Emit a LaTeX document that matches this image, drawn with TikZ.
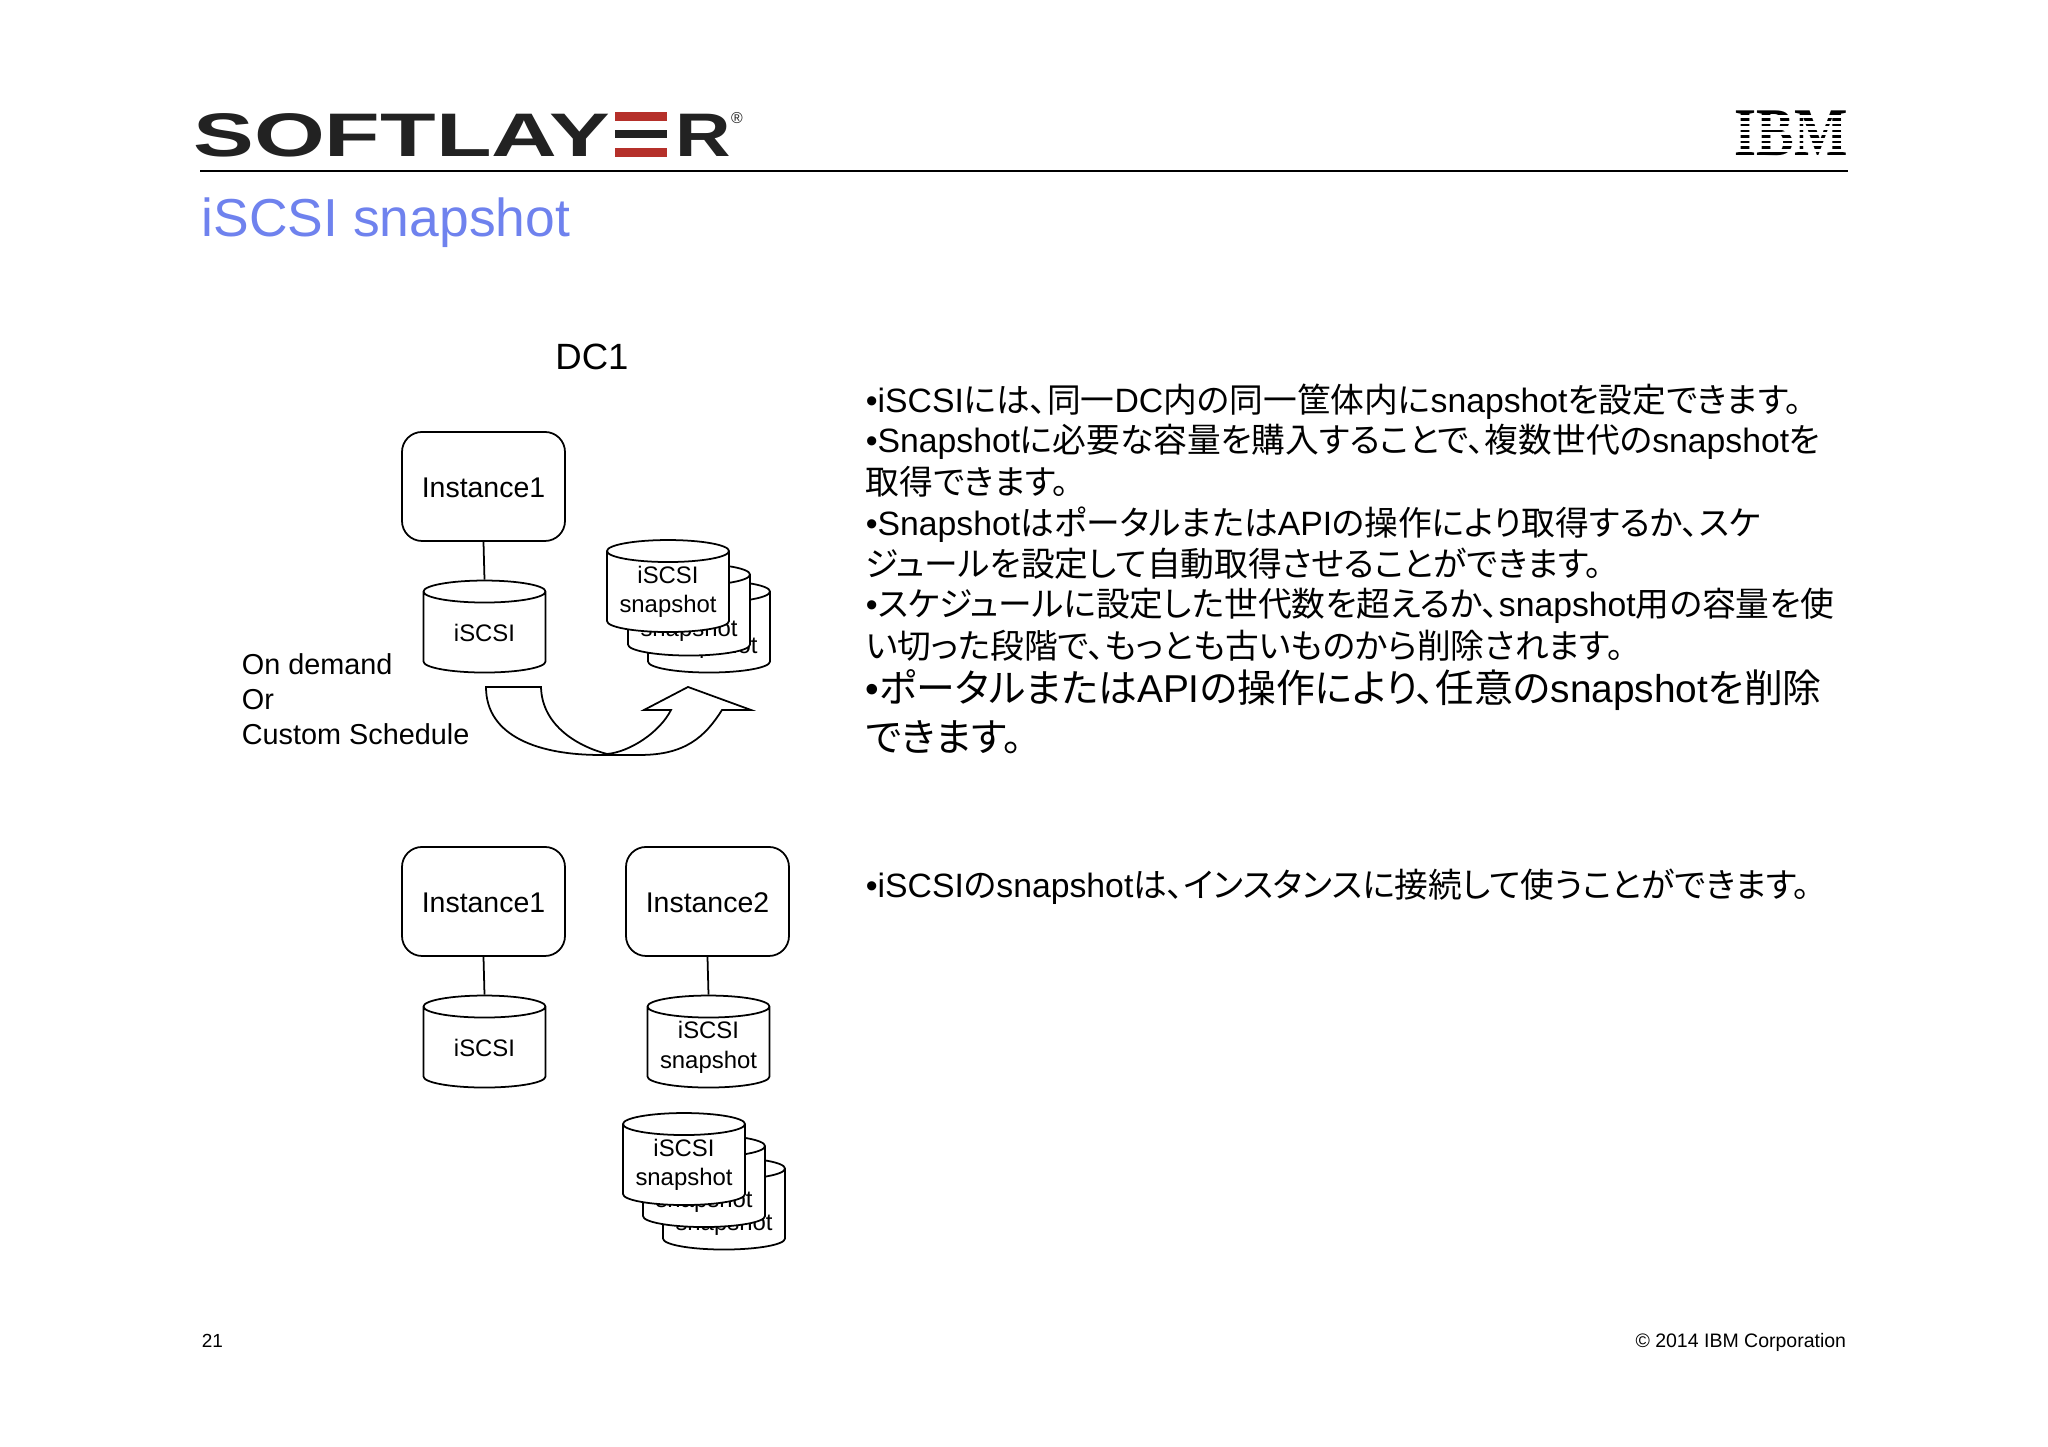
\documentclass[tikz,border=0pt]{standalone}
\usepackage{fontspec}
\setmainfont{Liberation Sans}
\newfontfamily\cjk[RawFeature=+palt]{Noto Sans CJK JP}
\newfontfamily\ibmfont{Liberation Serif}
\usetikzlibrary{shapes.geometric}
\definecolor{titleblue}{HTML}{6F82EE}
\definecolor{logored}{HTML}{B5302A}
\definecolor{logoblack}{HTML}{222222}
\newcommand{\jp}[1]{{\cjk #1}}
\begin{document}
\begin{tikzpicture}[line width=0.5pt]
	\tikzstyle{instance}=[draw, rounded corners=0.2cm, minimum width=1.63cm, minimum height=1.09cm, inner sep=0pt, text height=6.6pt, font=\fontsize{8.1}{10}\selectfont]
	\tikzstyle{disk}=[draw, fill=white, cylinder, shape border rotate=90, shape aspect=0.36, minimum width=1.22cm, minimum height=0.92cm, inner sep=0pt, font=\fontsize{6.8}{8.4}\selectfont]
	\tikzstyle{snapdisk}=[disk, execute at begin node=\phantom{iSCSI}, label={[align=center, inner sep=0pt, font=\fontsize{6.8}{8.4}\selectfont]center:iSCSI\\snapshot}]
	\tikzstyle{bullet}=[anchor=base west, inner sep=0pt, font=\fontsize{9.6}{11}\selectfont]
	\tikzstyle{bigbullet}=[anchor=base west, inner sep=0pt, font=\fontsize{11.05}{13}\selectfont]
	\useasboundingbox (0,0) rectangle (20.48,14.47);
	\fill [white] (0,0) rectangle (20.48,14.47);

	\node [anchor=base west, inner sep=0pt, xscale=1.48, text=logoblack, font=\fontsize{17.5}{20}\selectfont\bfseries] (logo) at (1.92,12.9) {SOFTLAY};
	\fill [logored] (6.15,13.35) rectangle (6.67,13.26);
	\fill [logoblack] (6.15,13.17) rectangle (6.67,13.09);
	\fill [logored] (6.15,12.99) rectangle (6.67,12.90);
	\node [anchor=base west, inner sep=0pt, xscale=1.25, text=logoblack, font=\fontsize{17.5}{20}\selectfont\bfseries] (logor) at (6.74,12.9) {R};
	\node [inner sep=0pt, text=logoblack, font=\fontsize{4.5}{5}\selectfont] (logomark) at (7.37,13.29) {®};
	\node [anchor=base west, inner sep=0pt, xscale=0.83, font=\fontsize{19.4}{22}\ibmfont\bfseries] (ibm) at (17.34,12.91) {IBM};
	\foreach \i in {1,...,7}
		\fill [white] (17.3,12.91+\i*0.056-0.016) rectangle (18.5,12.91+\i*0.056+0.016);
	\draw [line width=0.65pt] (2.0,12.76) -- (18.48,12.76);
	\node [anchor=base west, inner sep=0pt, text=titleblue, font=\fontsize{15.2}{18}\selectfont] (title) at (2.01,12.1) {iSCSI snapshot};

	\node [inner sep=0pt, font=\fontsize{10.4}{12}\selectfont] (dc) at (5.92,10.9) {DC1};
	\node [instance] (inst1) at (4.835,9.605) {Instance1};
	\node [disk] (disk1) at (4.845,8.145) {iSCSI};
	\draw (inst1.south) -- (disk1.top);
	\node [snapdisk] (snap3) at (7.09,8.145) {};
	\node [snapdisk] (snap2) at (6.89,8.315) {};
	\node [snapdisk] (snap1) at (6.68,8.55) {};
	\node [anchor=north west, inner sep=0pt, align=left, font=\fontsize{8.2}{10}\selectfont] (mode) at (2.41,7.945) {On demand\\Or\\Custom Schedule};
	\draw (4.86,7.6) .. controls (4.86,7.1) and (5.4,6.92) .. (6.0,6.92) -- (6.4,6.92) .. controls (6.85,6.92) and (7.05,7.1) .. (7.22,7.37) -- (7.51,7.37) -- (6.88,7.6) -- (6.44,7.37) -- (6.71,7.37) .. controls (6.6,7.15) and (6.3,6.95) .. (6.07,6.93) .. controls (5.8,7.0) and (5.42,7.2) .. (5.41,7.6) -- cycle;

	\node [instance] (inst2) at (4.835,5.455) {Instance1};
	\node [instance] (inst3) at (7.075,5.455) {Instance2};
	\node [disk] (disk2) at (4.845,3.995) {iSCSI};
	\node [snapdisk] (disk3) at (7.085,3.995) {};
	\draw (inst2.south) -- (disk2.top);
	\draw (inst3.south) -- (disk3.top);
	\node [snapdisk] (snap6) at (7.24,2.375) {};
	\node [snapdisk] (snap5) at (7.04,2.60) {};
	\node [snapdisk] (snap4) at (6.84,2.82) {};

	\node [bullet] (l1) at (8.65,10.34) {•iSCSI\jp{には、同一}DC\jp{内の同一筐体内に}snapshot\jp{を設定できます。}};
	\node [bullet] (l2) at (8.65,9.94) {•Snapshot\jp{に必要な容量を購入することで、複数世代の}snapshot\jp{を}};
	\node [bullet] (l3) at (8.65,9.52) {\jp{取得できます。}};
	\node [bullet] (l4) at (8.65,9.11) {•Snapshot\jp{はポータルまたは}API\jp{の操作により取得するか、スケ}};
	\node [bullet] (l5) at (8.65,8.70) {\jp{ジュールを設定して自動取得させることができます。}};
	\node [bullet] (l6) at (8.65,8.30) {•\jp{スケジュールに設定した世代数を超えるか、}snapshot\jp{用の容量を使}};
	\node [bullet] (l7) at (8.65,7.88) {\jp{い切った段階で、もっとも古いものから削除されます。}};
	\node [bigbullet] (l8) at (8.65,7.44) {•\jp{ポータルまたは}API\jp{の操作により、任意の}snapshot\jp{を削除}};
	\node [bigbullet] (l9) at (8.65,6.95) {\jp{できます。}};
	\node [bullet] (l10) at (8.65,5.49) {•iSCSI\jp{の}snapshot\jp{は、インスタンスに接続して使うことができます。}};

	\node [anchor=base west, inner sep=0pt, font=\fontsize{5.4}{7}\selectfont] (page) at (2.01,0.99) {21};
	\node [anchor=base east, inner sep=0pt, font=\fontsize{5.55}{7}\selectfont] (copy) at (18.47,0.99) {© 2014 IBM Corporation};
\end{tikzpicture}
\end{document}
